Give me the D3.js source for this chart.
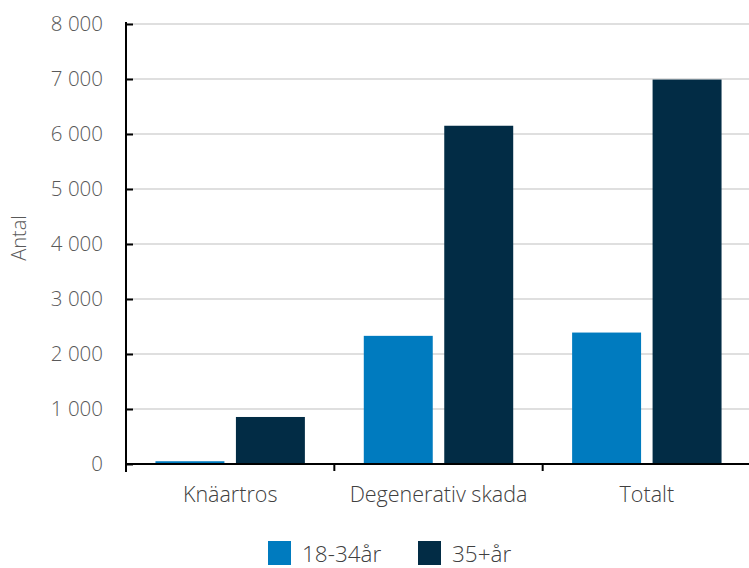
<!DOCTYPE html>
<html><head><meta charset="utf-8">
<script src="https://cdn.jsdelivr.net/npm/d3@7"></script>
<style>body{margin:0;background:#fff}svg{display:block;font-family:"Open Sans",sans-serif;font-weight:300}</style>
</head><body><svg id="c" width="749" height="568"></svg>
<script>
const categories = ["Knäartros", "Degenerativ skada", "Totalt"];
const seriesNames = ["18-34år", "35+år"];
const young = [50, 2330, 2390];
const older = [855, 6150, 6990];
const yTicks = [0, 1000, 2000, 3000, 4000, 5000, 6000, 7000, 8000];
const colors = ["#007bbf", "#022c45"];

const svg = d3.select("#c");
const m = {l: 126, r: 751, t: 24, b: 464};
const x0 = d3.scaleBand().domain(categories).range([m.l, m.r]);
const x1 = d3.scaleBand().domain(seriesNames).range([0, x0.bandwidth()]).paddingInner(0.143).paddingOuter(0.366);
const y = d3.scaleLinear().domain([0, 8000]).range([m.b, m.t]);
const fmt = v => d3.format(",")(v).replace(/,/g, " ");

// gridlines
svg.append("g").selectAll("line").data(yTicks.filter(d => d > 0)).join("line")
  .attr("x1", m.l).attr("x2", 749).attr("y1", d => y(d)).attr("y2", d => y(d))
  .attr("stroke", "#d4d4d4").attr("stroke-width", 1.5);

// bars
const data = categories.map((c, i) => ({c, vals: [young[i], older[i]]}));
const g = svg.append("g").selectAll("g").data(data).join("g")
  .attr("transform", d => `translate(${x0(d.c)},0)`);
g.selectAll("rect").data(d => d.vals.map((v, j) => ({s: seriesNames[j], v, j}))).join("rect")
  .attr("x", d => x1(d.s)).attr("width", x1.bandwidth())
  .attr("y", d => y(d.v)).attr("height", d => y(0) - y(d.v))
  .attr("fill", d => colors[d.j]);

// y axis
const ya = svg.append("g").attr("transform", `translate(${m.l},0)`)
  .call(d3.axisRight(y).tickValues(yTicks).tickSize(7).tickFormat(""));
ya.select(".domain").attr("stroke", "#000").attr("stroke-width", 2).attr("d", `M0,${m.t - 2}V${m.b + 8}`);
ya.selectAll(".tick line").attr("stroke", "#000").attr("stroke-width", 2);
svg.append("g").selectAll("text").data(yTicks).join("text")
  .attr("x", 103).attr("y", d => y(d) + 6.5).attr("text-anchor", "end")
  .attr("font-size", 20.5).attr("fill", "#595959").text(fmt);

// x axis
const xa = svg.append("g").attr("transform", `translate(0,${m.b})`);
xa.append("line").attr("x1", m.l - 1).attr("x2", 749).attr("stroke", "#000").attr("stroke-width", 2);
xa.selectAll("line.t").data(categories.slice(1)).join("line").attr("class", "t")
  .attr("x1", d => x0(d)).attr("x2", d => x0(d)).attr("y1", 0).attr("y2", 7)
  .attr("stroke", "#000").attr("stroke-width", 2);
svg.append("g").selectAll("text").data(categories).join("text")
  .attr("x", d => x0(d) + x0.bandwidth() / 2).attr("y", 502).attr("text-anchor", "middle")
  .attr("font-size", 21.5).attr("fill", "#404040").text(d => d);

// y title
svg.append("text").attr("transform", "translate(26,238) rotate(-90)").attr("text-anchor", "middle")
  .attr("font-size", 20).attr("fill", "#595959").text("Antal");

// legend
const legX = [268, 418];
const lg = svg.append("g").selectAll("g").data(seriesNames).join("g")
  .attr("transform", (d, i) => `translate(${legX[i]},541)`);
lg.append("rect").attr("width", 23).attr("height", 24).attr("fill", (d, i) => colors[i]);
lg.append("text").attr("x", 34).attr("y", 21).attr("font-size", 22.5).attr("fill", "#404040").text(d => d);
</script></body></html>
